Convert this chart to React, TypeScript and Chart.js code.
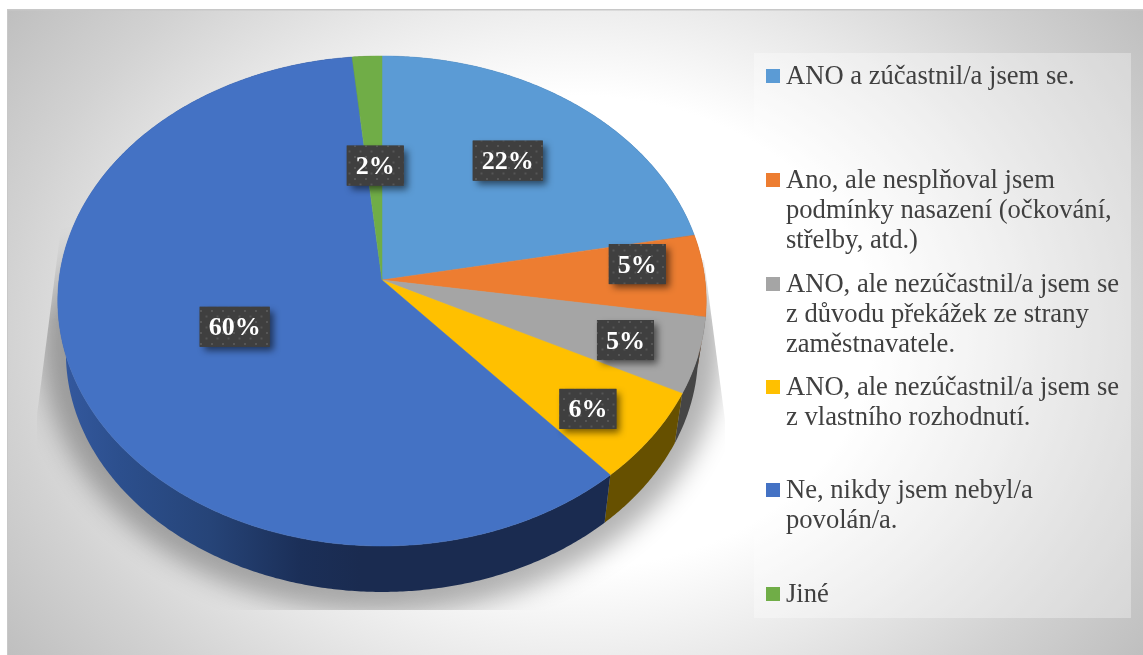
import React, { useEffect, useRef } from "react";
import { Chart, registerables } from "chart.js";

Chart.register(...registerables);

// ---- data ----
const categories: string[][] = [
  ["ANO a zúčastnil/a jsem se."],
  ["Ano, ale nesplňoval jsem", "podmínky nasazení (očkování,", "střelby, atd.)"],
  ["ANO, ale nezúčastnil/a jsem se", "z důvodu překážek ze strany", "zaměstnavatele."],
  ["ANO, ale nezúčastnil/a jsem se", "z vlastního rozhodnutí."],
  ["Ne, nikdy jsem nebyl/a", "povolán/a."],
  ["Jiné"],
];
const shares: number[] = [22.0, 5.4, 5.0, 6.1, 59.9, 1.6];
const shownPercent: string[] = ["22%", "5%", "5%", "6%", "60%", "2%"];

// ---- style and layout ----
const sliceColors = ["#5B9BD5", "#ED7D31", "#A5A5A5", "#FFC000", "#4472C4", "#70AD47"];
const wallColors = ["#2f5a80", "#8a4a1c", "#454545", "#665000", "", "#43682a"];
const W = 1143;
const H = 655;
const APEX_X = 382;
const TOP_APEX_Y = 280;
const BOTTOM_APEX_Y = 332.6;
const BOTTOM_SCALE = 0.975;
const RX = 323;
const RY = 243.2;
const PERSP = -0.0857;
const LABEL_R = 0.7;
// label centres, relative to the point at LABEL_R on each slice's middle
const labelNudge = [
  [-12, 6],
  [29.5, -12.7],
  [24, 7.5],
  [20, 21],
  [65, -23],
  [4, 46],
];
const legendBaselines = [84, 188, 292, 395, 498, 602];
const LEGEND_LINE = 30;
const SERIF = '"Liberation Serif", "Times New Roman", serif';

function project(angle: number, r: number, apexY: number, scale: number) {
  const t = angle + Math.PI / 2;
  const u = Math.sin(t);
  const v = -Math.cos(t);
  const d = 1 + PERSP * r * v;
  return { x: APEX_X + (scale * RX * r * u) / d, y: apexY + (scale * RY * r * v) / d };
}

function rimPoints(a0: number, a1: number, apexY: number, scale: number) {
  const n = Math.max(2, Math.ceil(Math.abs(a1 - a0) / (Math.PI / 360)));
  const pts: { x: number; y: number }[] = [];
  for (let i = 0; i <= n; i++) pts.push(project(a0 + ((a1 - a0) * i) / n, 1, apexY, scale));
  return pts;
}

function dotPattern(ctx: CanvasRenderingContext2D) {
  const c = document.createElement("canvas");
  c.width = 11;
  c.height = 11;
  const g = c.getContext("2d")!;
  g.fillStyle = "#3f3f3f";
  g.fillRect(0, 0, 11, 11);
  g.fillStyle = "rgba(255,255,255,0.12)";
  g.fillRect(2, 2, 2, 2);
  g.fillRect(7.5, 7.5, 2, 2);
  return ctx.createPattern(c, "repeat")!;
}

function castShadow() {
  const c = document.createElement("canvas");
  c.width = W;
  c.height = H;
  const g = c.getContext("2d")!;
  g.save();
  g.beginPath();
  g.moveTo(62, 220);
  g.lineTo(37, 415);
  g.lineTo(37, 610);
  g.lineTo(725, 610);
  g.lineTo(725, 420);
  g.lineTo(704, 260);
  g.closePath();
  g.clip();
  g.shadowColor = "rgba(0,0,0,0.3)";
  g.shadowBlur = 26;
  g.shadowOffsetX = 3000;
  g.fillStyle = "#000";
  g.beginPath();
  g.ellipse(382 - 3000, 345, 340, 268, 0, 0, Math.PI * 2);
  g.fill();
  g.restore();
  // the shadow fades out towards the top
  g.globalCompositeOperation = "destination-in";
  const fade = g.createLinearGradient(0, 225, 0, 320);
  fade.addColorStop(0, "rgba(0,0,0,0)");
  fade.addColorStop(1, "rgba(0,0,0,1)");
  g.fillStyle = fade;
  g.fillRect(0, 0, W, H);
  return c;
}

const piePlugin = {
  id: "tiltedPie",
  beforeDraw(chart: any) {
    const ctx: CanvasRenderingContext2D = chart.ctx;
    ctx.save();
    ctx.fillStyle = "#ffffff";
    ctx.fillRect(0, 0, W, H);
    ctx.fillStyle = "#c8c8c8";
    ctx.fillRect(7, 9, W - 7, H - 9);
    ctx.beginPath();
    ctx.rect(8, 10.5, W - 8, H - 10.5);
    ctx.clip();
    ctx.translate(575, 332);
    ctx.scale(1, 450 / 570);
    const g = ctx.createRadialGradient(0, 0, 0, 0, 0, 570 * 1.25);
    g.addColorStop(0, "#ffffff");
    g.addColorStop(0.42, "#ffffff");
    g.addColorStop(0.62, "#e8e8e8");
    g.addColorStop(0.8, "#d2d2d2");
    g.addColorStop(1, "#bdbdbd");
    ctx.fillStyle = g;
    ctx.fillRect(-700, -700, 1400, 1400);
    ctx.restore();

    ctx.save();
    ctx.fillStyle = "rgba(255,255,255,0.32)";
    ctx.fillRect(754, 53, 377, 565);
    ctx.restore();
  },
  beforeDatasetDraw(chart: any) {
    const ctx: CanvasRenderingContext2D = chart.ctx;
    const arcs = chart.getDatasetMeta(0).data as any[];

    ctx.drawImage(castShadow(), 0, 0);

    // side walls
    arcs.forEach((arc, i) => {
      const top = rimPoints(arc.startAngle, arc.endAngle, TOP_APEX_Y, 1);
      const bottom = rimPoints(arc.startAngle, arc.endAngle, BOTTOM_APEX_Y, BOTTOM_SCALE).reverse();
      ctx.beginPath();
      [...top, ...bottom].forEach((p, k) => (k ? ctx.lineTo(p.x, p.y) : ctx.moveTo(p.x, p.y)));
      ctx.closePath();
      if (wallColors[i]) {
        ctx.fillStyle = wallColors[i];
      } else {
        const g = ctx.createLinearGradient(60, 0, 360, 0);
        g.addColorStop(0, "#34599f");
        g.addColorStop(0.2, "#2c4f8d");
        g.addColorStop(0.5, "#264478");
        g.addColorStop(0.8, "#1b2f58");
        g.addColorStop(1, "#1a2b50");
        ctx.fillStyle = g;
      }
      ctx.fill();
    });

    // top face
    arcs.forEach((arc, i) => {
      const rim = rimPoints(arc.startAngle, arc.endAngle, TOP_APEX_Y, 1);
      ctx.beginPath();
      ctx.moveTo(APEX_X, TOP_APEX_Y);
      rim.forEach((p) => ctx.lineTo(p.x, p.y));
      ctx.closePath();
      ctx.fillStyle = sliceColors[i];
      ctx.strokeStyle = sliceColors[i];
      ctx.lineWidth = 0.5;
      ctx.fill();
      ctx.stroke();
    });
    return false;
  },
  afterDatasetsDraw(chart: any) {
    const ctx: CanvasRenderingContext2D = chart.ctx;
    const arcs = chart.getDatasetMeta(0).data as any[];
    const pattern = dotPattern(ctx);

    // value labels
    arcs.forEach((arc, i) => {
      const mid = (arc.startAngle + arc.endAngle) / 2;
      const p = project(mid, LABEL_R, TOP_APEX_Y, 1);
      const cx = p.x + labelNudge[i][0];
      const cy = p.y + labelNudge[i][1];
      const text = shownPercent[i];
      const bw = text.length > 2 ? 70 : 57;
      const bh = 40;
      ctx.save();
      ctx.shadowColor = "rgba(0,0,0,0.55)";
      ctx.shadowBlur = 7;
      ctx.shadowOffsetX = 4;
      ctx.shadowOffsetY = 4;
      ctx.fillStyle = "#3f3f3f";
      ctx.fillRect(cx - bw / 2, cy - bh / 2, bw, bh);
      ctx.restore();
      ctx.save();
      ctx.fillStyle = pattern;
      ctx.fillRect(cx - bw / 2, cy - bh / 2, bw, bh);
      ctx.fillStyle = "#ffffff";
      ctx.font = `bold 26px ${SERIF}`;
      ctx.textAlign = "center";
      ctx.textBaseline = "alphabetic";
      ctx.fillText(text, cx, cy + 8.5);
      ctx.restore();
    });

    // legend
    ctx.save();
    ctx.font = `26.6px ${SERIF}`;
    ctx.textAlign = "left";
    ctx.textBaseline = "alphabetic";
    categories.forEach((lines, i) => {
      const base = legendBaselines[i];
      ctx.fillStyle = sliceColors[i];
      ctx.fillRect(766, base - 15, 14, 14);
      ctx.fillStyle = "#404040";
      lines.forEach((line, k) => ctx.fillText(line, 786, base + k * LEGEND_LINE));
    });
    ctx.restore();
  },
};

export default function App() {
  const ref = useRef<HTMLCanvasElement>(null);
  useEffect(() => {
    const chart = new Chart(ref.current!, {
      type: "pie",
      data: {
        labels: categories.map((c) => c.join(" ")),
        datasets: [{ data: shares, backgroundColor: sliceColors, borderWidth: 0 }],
      },
      options: {
        animation: false,
        responsive: false,
        devicePixelRatio: 1,
        events: [],
        plugins: { legend: { display: false }, tooltip: { enabled: false } },
      },
      plugins: [piePlugin],
    } as any);
    return () => chart.destroy();
  }, []);
  return (
    <div style={{ position: "fixed", left: 0, top: 0, width: W, height: H, overflow: "hidden" }}>
      <canvas ref={ref} width={W} height={H} style={{ display: "block" }} />
    </div>
  );
}
